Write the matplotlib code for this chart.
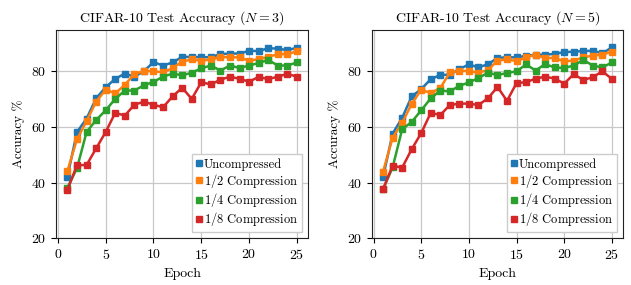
import matplotlib.pyplot as plt
from matplotlib.lines import Line2D
import numpy as np

plt.rcParams['font.family'] = 'serif'
plt.rcParams['font.serif'] = ['cmr10', 'DejaVu Serif']
plt.rcParams['mathtext.fontset'] = 'cm'
plt.rcParams['axes.formatter.use_mathtext'] = True
plt.rcParams['font.size'] = 9.5

epochs = np.arange(1, 26)

# N = 3
n3_uncomp = [42.2, 58.2, 63.0, 70.3, 74.3, 77.3, 79.2, 78.1, 80.1, 83.3, 82.1, 83.2, 85.2,
             85.2, 85.1, 85.1, 86.2, 86.4, 86.4, 87.4, 87.3, 88.3, 88.2, 87.6, 88.5]
n3_half = [44.2, 55.6, 62.1, 69.1, 73.4, 72.1, 75.1, 79.1, 80.1, 80.1, 79.6, 81.2, 83.5,
           84.3, 83.8, 84.3, 85.1, 85.1, 85.0, 83.8, 84.4, 85.2, 86.2, 86.2, 87.2]
n3_quarter = [38.2, 45.2, 58.2, 62.5, 66.0, 70.1, 73.1, 73.1, 75.0, 76.2, 78.1, 79.2, 78.6,
              79.5, 81.1, 82.1, 80.3, 82.1, 81.2, 82.1, 83.0, 84.1, 82.1, 82.1, 83.2]
n3_eighth = [37.4, 46.3, 46.3, 52.3, 58.2, 65.1, 64.1, 68.0, 69.1, 68.0, 67.1, 71.0, 74.1,
             70.1, 76.1, 75.3, 77.0, 78.1, 77.3, 76.3, 78.0, 77.2, 78.1, 79.1, 78.1]

# N = 5
n5_uncomp = [42.1, 57.6, 63.3, 71.0, 73.6, 77.2, 78.7, 78.8, 80.8, 82.5, 81.4, 82.6, 84.8,
             85.1, 85.0, 85.6, 86.0, 86.0, 86.3, 86.9, 87.1, 87.3, 87.4, 86.5, 88.6]
n5_half = [44.0, 56.2, 61.5, 68.3, 73.4, 72.2, 74.0, 79.6, 80.2, 80.1, 79.5, 80.5, 83.9,
           84.3, 83.7, 85.0, 86.0, 84.8, 84.8, 83.6, 83.9, 85.0, 85.7, 86.0, 87.1]
n5_quarter = [37.6, 45.5, 59.2, 61.8, 66.0, 70.3, 73.1, 72.8, 74.8, 76.0, 77.6, 79.5, 78.7,
              79.4, 80.0, 82.5, 80.3, 82.6, 81.4, 81.2, 82.1, 84.1, 82.1, 81.4, 83.2]
n5_eighth = [37.7, 46.1, 45.4, 52.0, 57.8, 65.1, 64.3, 67.9, 68.4, 68.4, 67.9, 70.3, 74.4,
             69.4, 75.8, 76.1, 77.4, 78.1, 77.4, 75.6, 79.0, 76.9, 77.9, 80.0, 77.3]

labels = ['Uncompressed', '$1/2$ Compression', '$1/4$ Compression', '$1/8$ Compression']
colors = ['#1f77b4', '#ff7f0e', '#2ca02c', '#d62728']

panels = [
    ('CIFAR-10 Test Accuracy ($N=3$)', [n3_uncomp, n3_half, n3_quarter, n3_eighth]),
    ('CIFAR-10 Test Accuracy ($N=5$)', [n5_uncomp, n5_half, n5_quarter, n5_eighth]),
]

fig = plt.figure(figsize=(6.31, 2.85), dpi=100)
axes = [fig.add_axes([0.0887, 0.164, 0.4, 0.732]),
        fig.add_axes([0.589, 0.164, 0.3988, 0.732])]

for ax, (title, series) in zip(axes, panels):
    for vals, c in zip(series, colors):
        ax.plot(epochs, vals, color=c, marker='s', markersize=4, linewidth=1.8)
    ax.set_ylim(20, 95)
    ax.set_xticks([0, 5, 10, 15, 20, 25])
    ax.set_yticks([20, 40, 60, 80])
    ax.tick_params(labelsize=10)
    ax.grid(True, color='#c8c8c8', linewidth=0.9)
    ax.set_axisbelow(True)
    for s in ax.spines.values():
        s.set_color('#222222')
    ax.set_title(title, fontsize=10)
    ax.set_xlabel('Epoch', fontsize=10)
    ax.set_ylabel('Accuracy %', fontsize=9.5)
    handles = [Line2D([], [], marker='s', linestyle='', color=c, markersize=4) for c in colors]
    ax.legend(handles, labels, loc='lower right', fancybox=False, framealpha=1,
              edgecolor='#cccccc', handlelength=0.6, handletextpad=0.1,
              borderaxespad=0.5, borderpad=0.3, labelspacing=0.1, fontsize=9)

fig.savefig('out.png', dpi=100)
